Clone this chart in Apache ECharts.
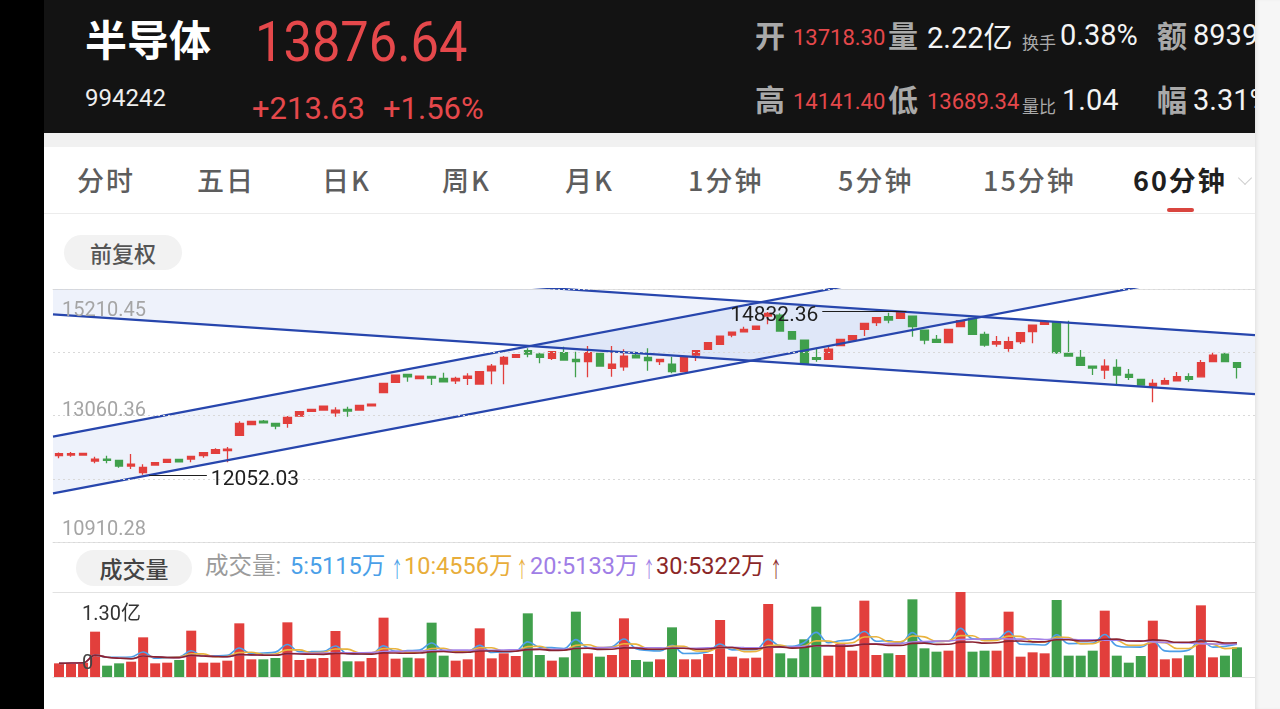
<!DOCTYPE html>
<html><head><meta charset="utf-8">
<script src="https://cdn.jsdelivr.net/npm/echarts@6.0.0/dist/echarts.min.js"></script>
<style>
html,body{margin:0;padding:0;width:1280px;height:709px;overflow:hidden;background:#fff;}
.abs{position:absolute;white-space:nowrap;line-height:1;}
.cn{font-family:"Noto Sans CJK SC",sans-serif;}
.num{font-family:Roboto,"Noto Sans CJK SC",sans-serif;}
#leftbar{left:0;top:0;width:44px;height:709px;background:#000;}
#header{left:44px;top:0;width:1211px;height:133px;background:#131313;}
#band{left:44px;top:133px;width:1211px;height:14px;background:#f1f1f1;}
#tabline{left:44px;top:213px;width:1211px;height:1px;background:#ececec;}
#rightstrip{left:1255px;top:0;width:25px;height:709px;background:#f6f6f6;box-shadow:inset 3px 0 4px -2px rgba(0,0,0,0.10);z-index:20;}
.tab{font-family:"Noto Sans CJK SC",sans-serif;font-size:27px;font-weight:500;color:#5d5d5d;top:166px;letter-spacing:2px;}
.gray{color:#a9a9a9;font-weight:700;font-size:30px;}
.red{color:#e5484b;}
.white{color:#f4f4f4;}
.pill{background:#f2f2f2;border-radius:18px;text-align:center;font-family:"Noto Sans CJK SC",sans-serif;}
.leg{top:555px;font-size:23.5px;font-family:Roboto,"Noto Sans CJK SC",sans-serif;}
.arrow{top:556px;font-size:22px;font-family:"Noto Sans CJK SC",sans-serif;transform:scaleX(0.55);transform-origin:left;}
#chart{position:absolute;left:0;top:0;width:1280px;height:709px;z-index:10;}
</style>
</head><body>
<div id="leftbar" class="abs"></div>
<div id="header" class="abs"></div>
<div id="band" class="abs"></div>
<div id="tabline" class="abs"></div>

<div class="abs cn" style="left:85px;top:17px;font-size:42px;font-weight:700;color:#fff;">半导体</div>
<div class="abs num" style="left:85px;top:86px;font-size:24px;color:#eee;">994242</div>
<div class="abs num red" style="left:255px;top:15px;font-size:55px;transform:scaleX(0.92);transform-origin:left;">13876.64</div>
<div class="abs num red" style="left:252px;top:93px;font-size:31px;">+213.63</div>
<div class="abs num red" style="left:383px;top:93px;font-size:31px;">+1.56%</div>

<div class="abs cn gray" style="left:755px;top:19px;">开</div>
<div class="abs num red" style="left:793px;top:27px;font-size:22px;">13718.30</div>
<div class="abs cn gray" style="left:888px;top:19px;">量</div>
<div class="abs num white" style="left:927px;top:21px;font-size:29px;">2.22<span class="cn">亿</span></div>
<div class="abs cn" style="left:1022px;top:33px;font-size:17px;color:#aaa;">换手</div>
<div class="abs num white" style="left:1060px;top:21px;font-size:29px;">0.38%</div>
<div class="abs cn gray" style="left:1157px;top:19px;">额</div>
<div class="abs num white" style="left:1193px;top:21px;font-size:29px;">8939</div>

<div class="abs cn gray" style="left:755px;top:83px;">高</div>
<div class="abs num red" style="left:793px;top:91px;font-size:22px;">14141.40</div>
<div class="abs cn gray" style="left:888px;top:83px;">低</div>
<div class="abs num red" style="left:927px;top:91px;font-size:22px;">13689.34</div>
<div class="abs cn" style="left:1022px;top:97px;font-size:17px;color:#aaa;">量比</div>
<div class="abs num white" style="left:1062px;top:86px;font-size:29px;">1.04</div>
<div class="abs cn gray" style="left:1157px;top:83px;">幅</div>
<div class="abs num white" style="left:1193px;top:86px;font-size:29px;">3.31%</div>

<div class="abs tab" style="left:77px;">分时</div>
<div class="abs tab" style="left:197px;">五日</div>
<div class="abs tab" style="left:322px;">日K</div>
<div class="abs tab" style="left:442px;">周K</div>
<div class="abs tab" style="left:565px;">月K</div>
<div class="abs tab" style="left:688px;">1分钟</div>
<div class="abs tab" style="left:838px;">5分钟</div>
<div class="abs tab" style="left:983px;">15分钟</div>
<div class="abs tab" style="left:1133px;font-weight:700;color:#1f1f1f;">60分钟</div>
<div class="abs" style="left:1240px;top:173px;width:9px;height:9px;border-right:1.5px solid #cfcfcf;border-bottom:1.5px solid #cfcfcf;transform:rotate(45deg);"></div>
<div class="abs" style="left:1167px;top:208px;width:27px;height:4px;border-radius:2px;background:#d9453f;"></div>

<div class="abs pill" style="left:64px;top:235px;width:118px;height:35px;line-height:35px;font-size:22px;font-weight:500;color:#555;">前复权</div>
<div class="abs pill" style="left:76px;top:550px;width:116px;height:36px;line-height:36px;font-size:23px;font-weight:500;color:#444;">成交量</div>

<div class="abs leg cn" style="left:205px;color:#9b9b9b;">成交量:</div>
<div class="abs leg" style="left:290px;color:#4a9fe8;">5:5115万</div>
<div class="abs arrow" style="left:391px;color:#4a9fe8;">↑</div>
<div class="abs leg" style="left:404px;color:#e8ad3a;">10:4556万</div>
<div class="abs arrow" style="left:516px;color:#e8ad3a;">↑</div>
<div class="abs leg" style="left:530px;color:#a07ee6;">20:5133万</div>
<div class="abs arrow" style="left:643px;color:#a07ee6;">↑</div>
<div class="abs leg" style="left:656px;color:#8b2727;">30:5322万</div>
<div class="abs arrow" style="left:770px;color:#8b2727;">↑</div>

<div id="rightstrip" class="abs"></div>
<div id="chart"></div>

<script>
// ---------------- data ----------------
const categories = ['1','2','3','4','5','6','7','8','9','10','11','12','13','14','15','16','17','18','19','20',
'21','22','23','24','25','26','27','28','29','30','31','32','33','34','35','36','37','38','39','40',
'41','42','43','44','45','46','47','48','49','50','51','52','53','54','55','56','57','58','59','60',
'61','62','63','64','65','66','67','68','69','70','71','72','73','74','75','76','77','78','79','80',
'81','82','83','84','85','86','87','88','89','90','91','92','93','94','95','96','97','98','99'];

const opens = [12377,12388,12388,12286,12320,12298,12201,12088,12218,12264,
12315,12320,12377,12417,12462,12723,12904,12966,12927,12927,
13051,13131,13153,13107,13165,13153,13226,13448,13624,13760,
13686,13726,13692,13651,13692,13595,13821,13935,14049,14162,
14105,14032,14128,14015,13975,14117,13862,13889,14088,14049,
13975,13935,13805,14088,14185,14270,14428,14484,14525,14751,
14768,14485,14343,14043,14015,14247,14343,14525,14638,14740,
14712,14751,14513,14355,14298,14570,14712,14440,14275,14202,
14315,14485,14610,14655,14117,14049,13901,13833,13879,13760,
13675,13561,13595,13651,13719,13718.30,13975,14105,13957];

const closes = [12411,12411,12417,12320,12298,12201,12235,12179,12258,12315,
12274,12366,12428,12479,12490,12927,12961,12937,12881,13029,
13124,13165,13221,13153,13136,13233,13255,13607,13748,13719,
13731,13697,13634,13692,13731,13805,13901,14049,14094,14105,
14049,14145,14003,13975,14128,13901,13935,14071,14042,13992,
14015,13805,14049,14162,14297,14411,14479,14525,14581,14797,
14496,14361,13947,14015,14190,14355,14417,14627,14723,14683,
14808,14570,14343,14304,14525,14672,14440,14258,14315,14315,
14467,14598,14655,14128,14071,13913,13867,13901,13748,13709,
13578,13607,13651,13719,13675,13957,14088,13975,13876.64];

const lows = [12332,12359,12385,12247,12247,12172,12150,12052.03,12218,12260,
12270,12264,12343,12412,12264,12720,12898,12930,12825,12853,
13045,13125,13148,13040,13040,13148,13220,13440,13618,13634,
13680,13578,13630,13595,13578,13590,13590,13590,14040,14049,
13947,14003,13998,13709,13709,13895,13719,13822,14035,13822,
13918,13777,13800,13986,14180,14265,14389,14480,14520,14610,
14490,14355,13940,13975,14010,14240,14338,14411,14581,14627,
14705,14400,14270,14300,14292,14565,14435,14230,14230,14145,
14275,14287,14605,14105,14065,13908,13748,13680,13595,13663,
13573,13284,13590,13646,13634,13714,13970,13970,13689.34];

const highs = [12431,12440,12420,12359,12376,12309,12405,12230,12269,12320,
12318,12370,12432,12502,12524,12961,12966,12983,12930,13051,
13136,13170,13226,13199,13210,13240,13260,13612,13752,13765,
13735,13730,13787,13719,13777,13810,13935,14071,14100,14202,
14128,14150,14230,14145,14241,14125,14241,14185,14145,14202,
14020,14060,14055,14166,14303,14416,14484,14570,14588,14820,
14797,14490,14350,14202,14230,14360,14422,14632,14728,14808,
14832.36,14756,14518,14428,14530,14677,14717,14485,14411,14400,
14472,14603,14660,14660,14672,14173,13905,14015,14015,13850,
13680,13675,13702,13799,13777,14003,14128,14141.40,13962];

// volume in 万
const volumes = [2090,2192,2192,6933,1733,2090,2345,6067,2090,2192,
2600,7086,2192,2192,2498,8208,2702,2702,2906,8361,
2600,2804,2906,7035,2396,2396,2906,9074,2804,2957,
2855,8310,3263,2498,2702,7443,2855,3620,3212,9737,
3365,2498,3008,9992,3620,3110,3365,8972,2600,2345,
2702,7596,2702,2702,3518,8718,3110,2855,2957,11165,
3620,2855,5761,10757,3263,5047,4027,11674,3365,3620,
3365,11879,4385,3874,4027,13000,3874,4027,4027,9992,
3110,3773,3620,11776,3263,3263,4027,10145,3263,2192,
3212,8615,2702,2855,3314,10960,3008,3263,4537];

const priceMin = 10910.28;
const priceMax = 15210.45;
const priceTickLabels = ['10910.28', '13060.36', '15210.45'];
const volumeMax = 13000;
const volumeTickLabels = ['0', '1.30亿'];

// trend lines: [barIndex, price] endpoints
const trendA = [[-0.5, 15788], [99.5, 14428]];
const trendB = [[-0.5, 14780], [99.5, 13424]];
const trendC = [[-0.5, 12700], [99.5, 16582]];
const trendD = [[-0.5, 11737], [99.5, 15620]];

const maPeriods = [5, 10, 20, 30];

// ---------------- styles ----------------
const upColor = '#e23f3c', downColor = '#40a04c';
const lineColor = '#2746ad';
const channelFill = 'rgba(70,110,210,0.09)';
const maColors = ['#4c9ee8', '#e9b33d', '#a583e8', '#8a2230'];

const slots = categories.concat(['']);
const candleData = opens.map((o, i) => [o, closes[i], lows[i], highs[i]]);
const volData = volumes.map((v, i) => ({value: v, itemStyle: {color: closes[i] >= opens[i] ? upColor : downColor}}));
function movingAvg(n) {
  return volumes.map((_, i) => {
    const s = Math.max(0, i - n + 1);
    let sum = 0;
    for (let k = s; k <= i; k++) sum += volumes[k];
    return +(sum / (i - s + 1)).toFixed(1);
  });
}
let minIdx = 0, maxIdx = 0;
lows.forEach((v, i) => { if (v < lows[minIdx]) minIdx = i; });
highs.forEach((v, i) => { if (v > highs[maxIdx]) maxIdx = i; });

const channels = [[trendA, trendB], [trendC, trendD]];
const hidden = {axisLine: {show: false}, axisTick: {show: false}, axisLabel: {show: false}, splitLine: {show: false}};
const border = {show: true, lineStyle: {color: '#e2e2e2', width: 1}};

const chart = echarts.init(document.getElementById('chart'), null, {renderer: 'canvas'});
const option = {
  animation: false,
  textStyle: {fontFamily: 'Roboto, "Noto Sans CJK SC", sans-serif'},
  grid: [
    {left: 53, top: 289, width: 1202, height: 253, outerBoundsMode: 'none'},
    {left: 53, top: 592, width: 1202, height: 85, outerBoundsMode: 'none'}
  ],
  xAxis: [
    Object.assign({type: 'category', gridIndex: 0, data: slots, boundaryGap: true, position: 'bottom'}, hidden, {axisLine: border}),
    Object.assign({type: 'value', gridIndex: 0, min: -0.5, max: slots.length - 0.5, position: 'top'}, hidden, {axisLine: border}),
    Object.assign({type: 'category', gridIndex: 1, data: slots, boundaryGap: true, position: 'bottom'}, hidden, {axisLine: border}),
    Object.assign({type: 'value', gridIndex: 1, min: -0.5, max: slots.length - 0.5, position: 'top'}, hidden, {axisLine: border})
  ],
  yAxis: [
    Object.assign({type: 'value', gridIndex: 0, min: priceMin, max: priceMax, scale: true, position: 'left'}, hidden),
    {
      type: 'value', gridIndex: 0, min: 0, max: 4, interval: 1, z: 5, position: 'left', offset: 0,
      axisLine: {show: false}, axisTick: {show: false},
      splitLine: {show: true, lineStyle: {color: '#d9d9d9', width: 1, type: [2, 3]}},
      axisLabel: {
        inside: true, margin: 9, color: '#a5a5a5', fontSize: 20,
        formatter: v => v === 4 ? '{t|' + priceTickLabels[2] + '}' : v === 2 ? '{m|' + priceTickLabels[1] + '}' : v === 0 ? '{b|' + priceTickLabels[0] + '}' : '',
        rich: {
          t: {color: '#a5a5a5', fontSize: 20, padding: [43, 0, 0, 0]},
          m: {color: '#a5a5a5', fontSize: 20, padding: [0, 0, 10, 0]},
          b: {color: '#a5a5a5', fontSize: 20, padding: [0, 0, 24, 0]}
        }
      }
    },
    {
      type: 'value', gridIndex: 1, min: 0, max: volumeMax, interval: volumeMax, z: 5, position: 'left',
      axisLine: {show: false}, axisTick: {show: false}, splitLine: {show: false},
      axisLabel: {
        inside: true, margin: 29, color: '#333', fontSize: 20,
        formatter: v => v === volumeMax ? '{t|' + volumeTickLabels[1] + '}' : '{b|' + volumeTickLabels[0] + '}',
        rich: {
          t: {color: '#333', fontSize: 20, padding: [46, 0, 0, 0]},
          b: {color: '#444', fontSize: 20, padding: [0, 0, 26, 0]}
        }
      }
    }
  ],
  series: [
    {
      type: 'custom', name: 'channels', xAxisIndex: 1, yAxisIndex: 0, clip: true, silent: true, z: 1,
      data: channels.map((c, i) => [i, priceMin]),
      renderItem: (params, api) => {
        const pair = channels[params.dataIndex];
        const pts = [api.coord(pair[0][0]), api.coord(pair[0][1]), api.coord(pair[1][1]), api.coord(pair[1][0])];
        return {type: 'polygon', shape: {points: pts}, style: {fill: channelFill}};
      }
    },
    {
      type: 'candlestick', name: 'K', xAxisIndex: 0, yAxisIndex: 0, z: 2, barWidth: 8,
      data: candleData,
      itemStyle: {color: upColor, color0: downColor, borderColor: upColor, borderColor0: downColor, borderWidth: 1.3}
    },
    {
      type: 'line', name: 'trendA', xAxisIndex: 1, yAxisIndex: 0, data: trendA, symbol: 'none', clip: true, z: 3, silent: true,
      lineStyle: {color: lineColor, width: 2.2},
      markLine: {
        silent: true, symbol: ['none', 'none'], animation: false,
        lineStyle: {color: '#1e1e1e', width: 1.2, type: 'solid'},
        label: {
          show: true, position: 'end', distance: 4,
          formatter: p => '{a|' + Number(p.value).toFixed(2) + '}',
          rich: {a: {color: '#1e1e1e', fontSize: 21, padding: [10, 0, 0, 0]}}
        },
        data: [
          [{coord: [minIdx + 0.5, lows[minIdx]], value: lows[minIdx]}, {coord: [minIdx + 5.3, lows[minIdx]]}],
          [{coord: [maxIdx + 0.5, highs[maxIdx]], value: highs[maxIdx]}, {coord: [maxIdx - 6.5, highs[maxIdx]]}]
        ]
      }
    },
    {type: 'line', name: 'trendB', xAxisIndex: 1, yAxisIndex: 0, data: trendB, symbol: 'none', clip: true, z: 3, silent: true, lineStyle: {color: lineColor, width: 2.2}},
    {type: 'line', name: 'trendC', xAxisIndex: 1, yAxisIndex: 0, data: trendC, symbol: 'none', clip: true, z: 3, silent: true, lineStyle: {color: lineColor, width: 2.2}},
    {type: 'line', name: 'trendD', xAxisIndex: 1, yAxisIndex: 0, data: trendD, symbol: 'none', clip: true, z: 3, silent: true, lineStyle: {color: lineColor, width: 2.2}},
    {type: 'bar', name: 'VOL', xAxisIndex: 2, yAxisIndex: 2, barWidth: 10, data: volData, z: 2}
  ].concat(maPeriods.map((n, k) => ({
    type: 'line', name: 'MA' + n, xAxisIndex: 2, yAxisIndex: 2, data: movingAvg(n), symbol: 'none', smooth: 0.4, z: 3, silent: true,
    lineStyle: {color: maColors[k], width: 1.6}
  })))
};
chart.setOption(option);
</script>
</body></html>
